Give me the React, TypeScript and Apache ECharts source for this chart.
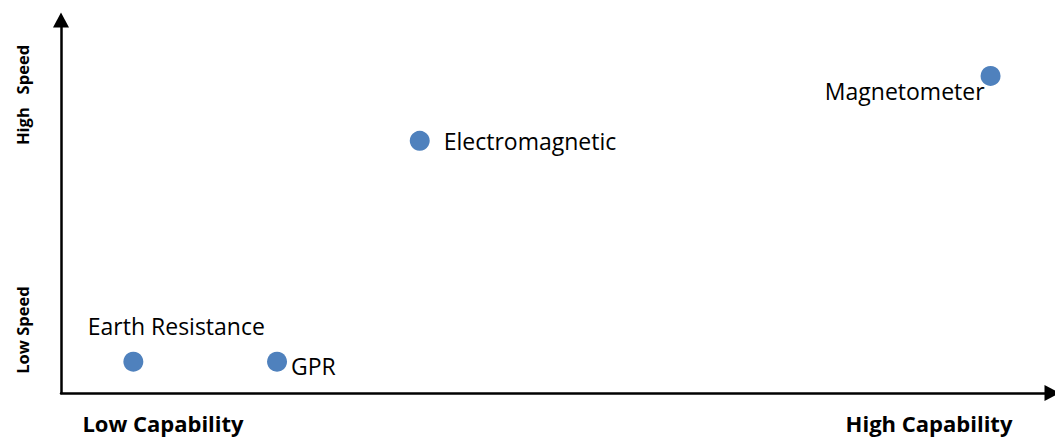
import React, { useEffect, useRef } from "react";
import * as echarts from "echarts";

const methods = ["Earth Resistance", "GPR", "Electromagnetic", "Magnetometer"];
const capability = [0.73, 2.18, 3.62, 9.38];
const speed = [0.84, 0.84, 6.76, 8.5];
const xEndLabels = ["Low Capability", "High Capability"];
const yEndLabels = ["Low Speed", "High   Speed"];

const labelPlacement: Record<string, any> = {
  "Earth Resistance": { position: "top", offset: [43, -9] },
  GPR: { position: "right", offset: [-1, 4] },
  Electromagnetic: { position: "right", offset: [9, 0] },
  Magnetometer: { position: "left", offset: [9, 15] },
};

export default function App() {
  const ref = useRef<HTMLDivElement>(null);
  useEffect(() => {
    if (!ref.current) return;
    const chart = echarts.init(ref.current, null, { renderer: "svg" });
    const font = "'Open Sans', sans-serif";
    const axisLine = {
      show: true,
      lineStyle: { color: "#000", width: 2.5 },
      symbol: ["none", "triangle"],
      symbolSize: [16, 15],
    };
    chart.setOption({
      animation: false,
      grid: { left: 61, right: 3, top: 20, bottom: 44 },
      xAxis: {
        type: "value",
        min: 0,
        max: 10,
        axisLine,
        axisTick: { show: false },
        axisLabel: { show: false },
        splitLine: { show: false },
      },
      yAxis: {
        type: "value",
        min: 0,
        max: 10,
        axisLine,
        axisTick: { show: false },
        axisLabel: { show: false },
        splitLine: { show: false },
      },
      series: [
        {
          type: "scatter",
          symbolSize: 20,
          itemStyle: { color: "#4F81BD", opacity: 1 },
          data: methods.map((m, i) => ({
            name: m,
            value: [capability[i], speed[i]],
            label: {
              show: true,
              formatter: m,
              color: "#000",
              fontSize: 23,
              fontFamily: font,
              ...labelPlacement[m],
            },
          })),
        },
      ],
      graphic: [
        {
          type: "text",
          x: 163,
          y: 423,
          style: {
            text: xEndLabels[0],
            font: `bold 22px ${font}`,
            fill: "#000",
            align: "center",
            verticalAlign: "middle",
          },
        },
        {
          type: "text",
          x: 929,
          y: 423,
          style: {
            text: xEndLabels[1],
            font: `bold 22px ${font}`,
            fill: "#000",
            align: "center",
            verticalAlign: "middle",
          },
        },
        {
          type: "text",
          x: 22,
          y: 330,
          rotation: Math.PI / 2,
          style: {
            text: yEndLabels[0],
            font: `bold 16.5px ${font}`,
            fill: "#000",
            align: "center",
            verticalAlign: "middle",
          },
        },
        {
          type: "text",
          x: 22,
          y: 95,
          rotation: Math.PI / 2,
          style: {
            text: yEndLabels[1],
            font: `bold 16.5px ${font}`,
            fill: "#000",
            align: "center",
            verticalAlign: "middle",
          },
        },
      ],
    });
    return () => chart.dispose();
  }, []);
  return <div ref={ref} style={{ width: 1055, height: 437, position: "absolute", left: 0, top: 0 }} />;
}
